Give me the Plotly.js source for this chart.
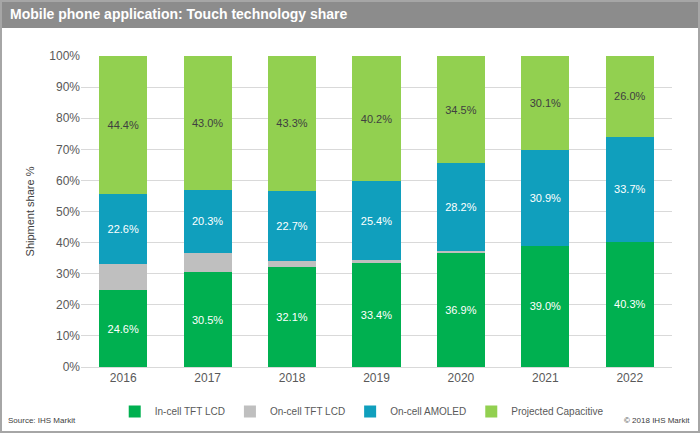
<!DOCTYPE html>
<html><head><script src="https://cdn.plot.ly/plotly-3.0.1.min.js"></script>
<style>body{margin:0;background:#fff}#c{width:700px;height:433px}</style></head>
<body><div id="c"></div><script>
var years=['2016','2017','2018','2019','2020','2021','2022'];
var inCellTFT=[24.6,30.5,32.1,33.4,36.9,39.0,40.3];
var onCellTFT=[8.4,6.2,1.9,1.0,0.4,0,0];
var onCellAMOLED=[22.6,20.3,22.7,25.4,28.2,30.9,33.7];
var projCap=[44.4,43.0,43.3,40.2,34.5,30.1,26.0];
function tr(name,y,color,lab,tc){return {type:'bar',name:name,x:years,y:y,marker:{color:color},
 text:lab?y.map(function(v){return v.toFixed(1)+'%';}):null,textposition:lab?'inside':'none',insidetextanchor:'middle',
 textfont:{color:tc,size:11,family:'Liberation Sans, Arial'},hoverinfo:'none'};}
var data=[tr('In-cell TFT LCD',inCellTFT,'#00b050',true,'#ffffff'),
 tr('On-cell TFT LCD',onCellTFT,'#bfbfbf',false),
 tr('On-cell AMOLED',onCellAMOLED,'#109fbd',true,'#ffffff'),
 tr('Projected Capacitive',projCap,'#92d050',true,'#404040')];
var W=591,H=311;
var layout={width:700,height:433,barmode:'stack',bargap:0.43,showlegend:true,
 margin:{l:81,r:28,t:56,b:66,autoexpand:false},paper_bgcolor:'#fff',plot_bgcolor:'#fff',
 font:{family:'Liberation Sans, Arial',color:'#595959',size:12},
 xaxis:{showline:true,linecolor:'#d9d9d9',tickfont:{size:12,color:'#595959'},ticks:''},
 yaxis:{range:[0,100],dtick:10,ticksuffix:'%',gridcolor:'#d9d9d9',tickfont:{size:12,color:'#595959'},
  title:{text:'Shipment share %',font:{size:11,color:'#404040'},standoff:12}},
 legend:{orientation:'h',x:0.475,xanchor:'center',y:-30/H,yanchor:'top',font:{size:10,color:'#595959'},traceorder:'normal'},
 shapes:[{type:'rect',xref:'paper',yref:'paper',x0:-81/W,x1:1+28/W,y0:1+56/H,y1:1+28/H,fillcolor:'#8c8c8c',line:{width:0}},
 {type:'rect',xref:'paper',yref:'paper',x0:-80/W,x1:1+27/W,y0:-65/H,y1:1+55/H,line:{color:'#a6a6a6',width:2}}],
 annotations:[{text:'<b>Mobile phone application: Touch technology share</b>',xref:'paper',yref:'paper',x:-73/W,y:1+42/H,xanchor:'left',yanchor:'middle',showarrow:false,font:{size:14,color:'#ffffff',family:'Liberation Sans, Arial'}},
 {text:'Source: IHS Markit',xref:'paper',yref:'paper',x:-75/W,y:-53/H,xanchor:'left',yanchor:'middle',showarrow:false,font:{size:8,color:'#404040'}},
 {text:'© 2018 IHS Markit',xref:'paper',yref:'paper',x:1+20/W,y:-53/H,xanchor:'right',yanchor:'middle',showarrow:false,font:{size:8,color:'#404040'}}]};
Plotly.newPlot('c',data,layout,{displayModeBar:false});
</script></body></html>
